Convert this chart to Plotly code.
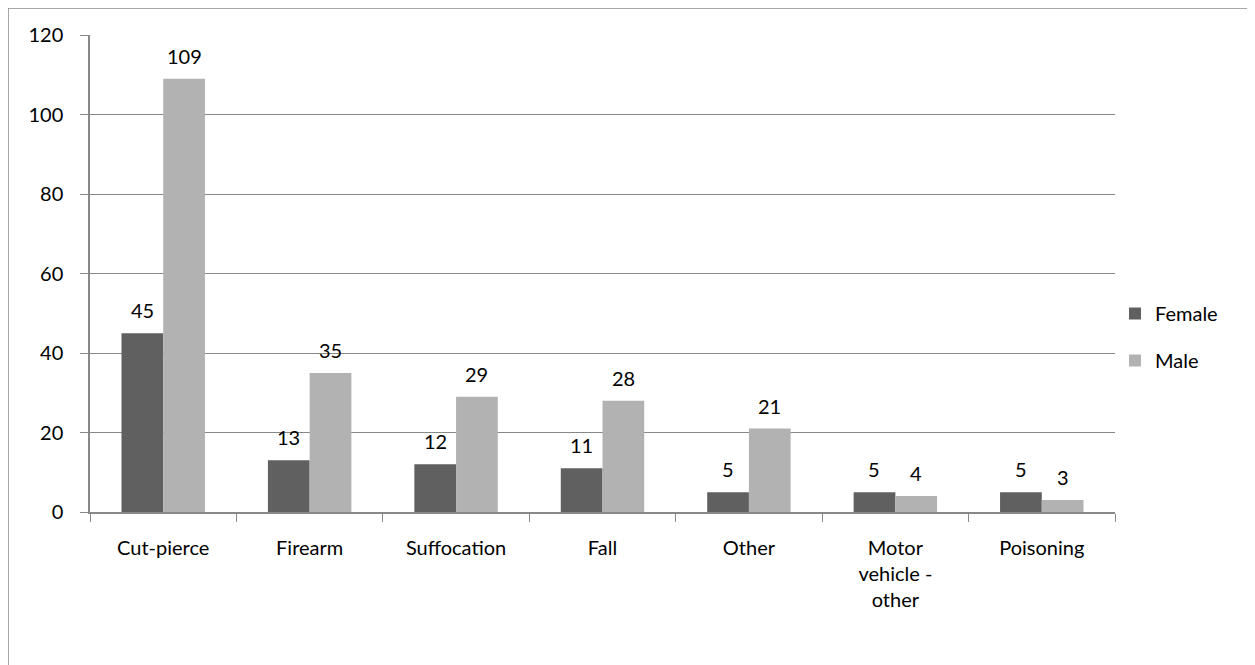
import plotly.graph_objects as go

categories = ["Cut-pierce", "Firearm", "Suffocation", "Fall", "Other",
              "Motor<br>vehicle -<br>other", "Poisoning"]
female = [45, 13, 12, 11, 5, 5, 5]
male = [109, 35, 29, 28, 21, 4, 3]

# page body adds 8px, so layout pixels are shifted by it
OFF = 8
W, H = 1255 - OFF, 665 - OFF
L, R, T, B = 90 - OFF, 140, 35 - OFF, 153
BARGAP = 0.43


def px_x(p):
    return (p - OFF - L) / (W - L - R)


def px_y(p):
    return (H - B - (p - OFF)) / (H - T - B)


font = dict(family="Lato, Open Sans, sans-serif", size=20, color="#000000")

fig = go.Figure()
fig.add_trace(go.Bar(x=categories, y=female, name="Female",
                     marker=dict(color="#606060", line=dict(width=0)),
                     legendgroup="f"))
fig.add_trace(go.Bar(x=categories, y=male, name="Male",
                     marker=dict(color="#b2b2b2", line=dict(width=0)),
                     legendgroup="m"))

# value labels sit a little above the bars, as in the original
bar_px = (W - L - R) / len(categories) * (1 - BARGAP) / 2
for series, shift in ((female, -bar_px / 2), (male, bar_px / 2)):
    for cat, v in zip(categories, series):
        fig.add_annotation(x=cat, y=v, text=str(v), showarrow=False,
                           xshift=shift, yshift=9, yanchor="bottom",
                           font=font)

fig.update_layout(
    width=W, height=H,
    margin=dict(l=L, r=R, t=T, b=B, autoexpand=False),
    paper_bgcolor="white", plot_bgcolor="white",
    barmode="group", bargap=BARGAP, bargroupgap=0,
    font=font,
    showlegend=True,
    legend=dict(x=px_x(1115), y=px_y(337), xanchor="left", yanchor="middle",
                font=font, tracegroupgap=18, itemwidth=30,
                bgcolor="rgba(0,0,0,0)"),
    shapes=[dict(type="rect", xref="paper", yref="paper",
                 x0=px_x(8), x1=px_x(1300), y0=px_y(720), y1=px_y(8),
                 line=dict(color="#8c8c8c", width=1.5), layer="below")],
)

fig.update_xaxes(type="category", tickson="boundaries", ticks="outside",
                 ticklen=8, tickcolor="#888888", showline=True,
                 linecolor="#888888", linewidth=1.5, showgrid=False,
                 tickfont=font, ticklabelstandoff=17)
fig.update_yaxes(range=[0, 120], dtick=20, ticks="outside", ticklen=8,
                 tickcolor="#888888", showline=True, linecolor="#888888",
                 linewidth=1.5, showgrid=True, gridcolor="#888888",
                 gridwidth=1.2, zeroline=False, tickfont=font, ticklabelstandoff=13)

fig.write_html("out.html")
